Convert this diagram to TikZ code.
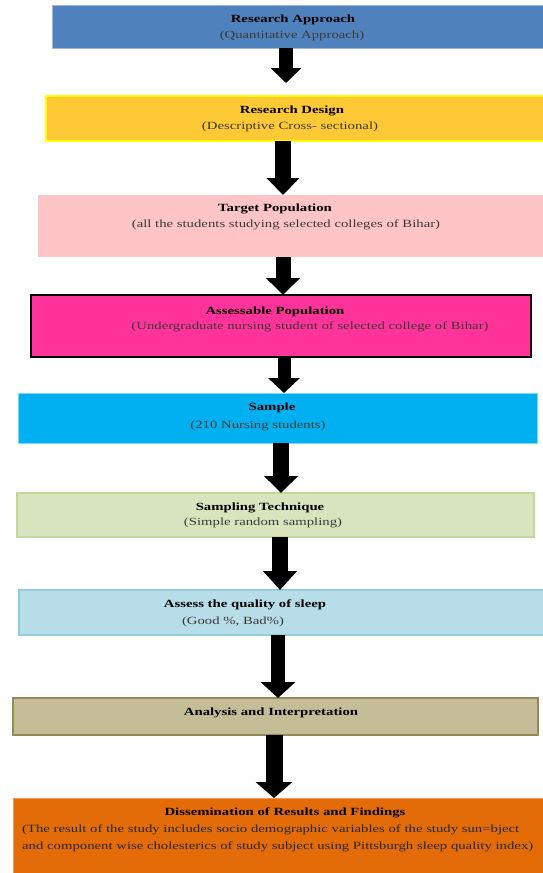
\documentclass[tikz,border=0pt]{standalone}
\usepackage{fontspec}
\setmainfont{Liberation Serif}[FakeStretch=1.34]
\usetikzlibrary{arrows.meta,calc}
\definecolor{c1}{HTML}{4F81BD}\definecolor{c1b}{HTML}{9DB9DE}
\definecolor{c2}{HTML}{FFC936}\definecolor{c2b}{HTML}{FFFF00}
\definecolor{c3}{HTML}{FFC4C6}
\definecolor{c4}{HTML}{FF3399}
\definecolor{c5}{HTML}{00B0F0}\definecolor{c5b}{HTML}{7FD7F7}
\definecolor{c6}{HTML}{D7E4BD}\definecolor{c6b}{HTML}{C3D69B}
\definecolor{c7}{HTML}{B7DDE8}\definecolor{c7b}{HTML}{93CDDD}
\definecolor{c8}{HTML}{C4BD97}\definecolor{c8b}{HTML}{948A54}
\definecolor{c9}{HTML}{E36C09}\definecolor{c9b}{HTML}{F29A5A}
\definecolor{subtext}{HTML}{3A3A3A}
\tikzset{
  box/.style={rectangle, inner sep=0pt, outer sep=0pt, anchor=north west, line width=1pt},
  ttl/.style={font=\fontsize{11}{16}\selectfont\bfseries, text=black, inner sep=0pt},
  sub/.style={font=\fontsize{11}{16}\selectfont, text=subtext, inner sep=0pt},
  bigarrow/.style n args={3}{draw=black, line width=#1pt, -{Triangle[width=#2pt,length=#3pt]}}
}
\begin{document}
\begin{tikzpicture}[x=1pt,y=-1pt]
\useasboundingbox (0,0) rectangle (542,873);
% boxes
\node[box, fill=c1, draw=c1b, minimum width=495pt, minimum height=43pt] (b1) at (52,5) {};
\node[box, fill=c2, draw=c2b, line width=1.5pt, minimum width=500pt, minimum height=45pt] (b2) at (46,96) {};
\node[box, fill=c3, minimum width=510pt, minimum height=62pt] (b3) at (38,195) {};
\node[box, fill=c4, draw=black, line width=1.5pt, minimum width=500pt, minimum height=62pt] (b4) at (31,295) {};
\node[box, fill=c5, draw=c5b, minimum width=519pt, minimum height=50pt] (b5) at (18,393) {};
\node[box, fill=c6, draw=c6b, line width=1.5pt, minimum width=517pt, minimum height=44pt] (b6) at (17,493) {};
\node[box, fill=c7, draw=c7b, line width=1.5pt, minimum width=530pt, minimum height=45pt] (b7) at (19,590) {};
\node[box, fill=c8, draw=c8b, line width=1.5pt, minimum width=525pt, minimum height=37pt] (b8) at (13,698) {};
\node[box, fill=c9, draw=c9b, minimum width=535pt, minimum height=85pt] (b9) at (13,798) {};
% texts
\node[ttl] (t1) at (293,20) {Research Approach};
\node[sub] (s1) at (292,36) {(Quantitative Approach)};
\node[ttl] (t2) at (292,111) {Research Design};
\node[sub] (s2) at (290,127) {(Descriptive Cross- sectional)};
\node[ttl] (t3) at (275,209) {Target Population};
\node[sub] (s3) at (286,225) {(all the students studying selected colleges of Bihar)};
\node[ttl] (t4) at (275,312) {Assessable Population};
\node[sub] (s4) at (310,327) {(Undergraduate nursing student of selected college of Bihar)};
\node[ttl] (t5) at (272,408) {Sample};
\node[sub] (s5) at (258,426) {(210 Nursing students)};
\node[ttl] (t6) at (260,508) {Sampling Technique};
\node[sub] (s6) at (263,523) {(Simple random sampling)};
\node[ttl] (t7) at (245,605) {Assess the quality of sleep};
\node[sub] (s7) at (233,622) {(Good \%, Bad\%)};
\node[ttl] (t8) at (271,713) {Analysis and Interpretation};
\node[ttl] (t9) at (285,813) {Dissemination of Results and Findings};
\node[sub, anchor=west, text=black!85] (s9a) at (22,830) {(The result of the study includes socio demographic variables of the study sun=bject};
\node[sub, anchor=west, text=black!85] (s9b) at (22,847) {and component wise cholesterics of study subject using Pittsburgh sleep quality index)};
% arrow columns
\coordinate (x1) at (286,0);
\coordinate (x2) at (283,0);
\coordinate (x3) at (283,0);
\coordinate (x4) at (284,0);
\coordinate (x5) at (281,0);
\coordinate (x6) at (280,0);
\coordinate (x7) at (278,0);
\coordinate (x8) at (274,0);
% arrows
\draw[bigarrow={14}{30}{15}] (b1.south -| x1) -- ($(b2.north -| x1)+(0,-13)$);
\draw[bigarrow={16}{32}{17}] (b2.south -| x2) -- (b3.north -| x2);
\draw[bigarrow={15}{33}{17}] (b3.south -| x3) -- (b4.north -| x3);
\draw[bigarrow={13}{31}{15}] (b4.south -| x4) -- (b5.north -| x4);
\draw[bigarrow={16}{33}{17}] (b5.south -| x5) -- (b6.north -| x5);
\draw[bigarrow={16}{33}{19}] (b6.south -| x6) -- (b7.north -| x6);
\draw[bigarrow={14}{34}{16}] (b7.south -| x7) -- (b8.north -| x7);
\draw[bigarrow={17}{36}{16}] (b8.south -| x8) -- (b9.north -| x8);
\end{tikzpicture}
\end{document}
